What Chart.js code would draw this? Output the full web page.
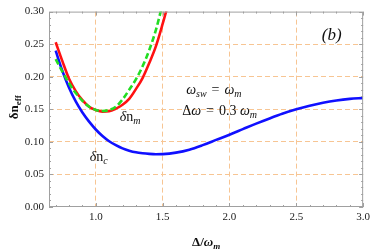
<!DOCTYPE html>
<html><head><meta charset="utf-8">
<script src="https://cdn.jsdelivr.net/npm/chart.js@4"></script>
<style>html,body{margin:0;padding:0;background:#fff;overflow:hidden}</style>
</head><body><canvas id="c" width="374" height="251" style="display:block;width:374px;height:251px"></canvas>
<script>
// ---- data ----
const blueX = [0.70,0.75,0.80,0.85,0.90,0.95,1.00,1.05,1.10,1.15,1.20,1.25,1.30,1.35,1.40,1.45,1.50,1.60,1.70,1.80,1.90,2.00,2.10,2.20,2.30,2.40,2.50,2.60,2.70,2.80,2.90,3.00];
const blueY = [0.240,0.209,0.183,0.162,0.145,0.131,0.119,0.109,0.101,0.095,0.090,0.0865,0.084,0.0825,0.0815,0.081,0.0812,0.0835,0.088,0.095,0.103,0.111,0.1195,0.128,0.136,0.1435,0.150,0.1555,0.160,0.1635,0.166,0.1675];
const redX = [0.70,0.75,0.80,0.85,0.90,0.95,1.00,1.05,1.10,1.15,1.20,1.25,1.30,1.35,1.40,1.45,1.50,1.55];
const redY = [0.253,0.224,0.197,0.178,0.164,0.154,0.149,0.1465,0.147,0.151,0.157,0.166,0.181,0.198,0.221,0.247,0.281,0.318];
const greenX = [0.70,0.75,0.80,0.85,0.90,0.95,1.00,1.05,1.10,1.15,1.20,1.25,1.30,1.35,1.40,1.45,1.50];
const greenY = [0.227,0.208,0.190,0.175,0.163,0.154,0.149,0.1475,0.149,0.154,0.165,0.180,0.196,0.216,0.241,0.272,0.312];
const xTicks = [1.0,1.5,2.0,2.5,3.0];
const yTicks = [0.00,0.05,0.10,0.15,0.20,0.25,0.30];

const pts = (xs, ys) => xs.map((x, i) => ({x, y: ys[i]}));
const SERIF = '"Liberation Serif", "DejaVu Serif", serif';
const GRID = '#f7c593';

function drawRich(ctx, x, y, segs, align) {
  let w = 0;
  segs.forEach(s => { ctx.font = s.font; s.w = ctx.measureText(s.t).width + (s.sp || 0); w += s.w; });
  let cx = align === 'center' ? x - w / 2 : x;
  ctx.textBaseline = 'alphabetic';
  ctx.textAlign = 'left';
  segs.forEach(s => { ctx.font = s.font; ctx.fillText(s.t, cx, y + (s.dy || 0)); cx += s.w; });
}

const decor = {
  id: 'decor',
  afterDraw(chart) {
    const {ctx, chartArea: a, scales: {x, y}} = chart;
    ctx.save();
    // frame
    ctx.strokeStyle = '#a0a0a0';
    ctx.lineWidth = 1;
    ctx.strokeRect(a.left + 0.5, a.top + 0.5, a.right - a.left - 1, a.bottom - a.top - 1);
    // minor / major ticks inside frame
    ctx.beginPath();
    for (let k = 7; k <= 30; k++) {
      const v = k / 10, px = Math.round(x.getPixelForValue(v)) + 0.5;
      const len = (k % 5 === 0) ? 4 : 2;
      ctx.moveTo(px, a.bottom); ctx.lineTo(px, a.bottom - len);
      ctx.moveTo(px, a.top); ctx.lineTo(px, a.top + len);
    }
    for (let k = 0; k <= 30; k++) {
      const v = k / 100, py = Math.round(y.getPixelForValue(v)) + 0.5;
      const len = (k % 5 === 0) ? 4 : 2;
      ctx.moveTo(a.left, py); ctx.lineTo(a.left + len, py);
      ctx.moveTo(a.right, py); ctx.lineTo(a.right - len, py);
    }
    ctx.stroke();

    ctx.fillStyle = '#111';
    // panel label
    drawRich(ctx, x.getPixelForValue(2.765), y.getPixelForValue(0.263) + 4,
      [{t: '(b)', font: 'italic 17px ' + SERIF}], 'center');
    // parameters
    drawRich(ctx, x.getPixelForValue(1.676), y.getPixelForValue(0.181) + 5, [
      {t: 'ω', font: 'italic 14px ' + SERIF},
      {t: 'sw', font: 'italic 10px ' + SERIF, dy: 3, sp: 5},
      {t: '=', font: '14px ' + SERIF, sp: 5},
      {t: 'ω', font: 'italic 14px ' + SERIF},
      {t: 'm', font: 'italic 10px ' + SERIF, dy: 3}
    ]);
    drawRich(ctx, x.getPixelForValue(1.646), y.getPixelForValue(0.149) + 5, [
      {t: 'Δ', font: '14px ' + SERIF},
      {t: 'ω', font: 'italic 14px ' + SERIF, sp: 5},
      {t: '=', font: '14px ' + SERIF, sp: 5},
      {t: '0.3 ', font: '14px ' + SERIF},
      {t: 'ω', font: 'italic 14px ' + SERIF},
      {t: 'm', font: 'italic 10px ' + SERIF, dy: 3}
    ]);
    // curve labels
    drawRich(ctx, x.getPixelForValue(1.18), y.getPixelForValue(0.138) + 4, [
      {t: 'δ', font: 'italic 14px ' + SERIF},
      {t: 'n', font: '14px ' + SERIF},
      {t: 'm', font: 'italic 10px ' + SERIF, dy: 3}
    ]);
    drawRich(ctx, x.getPixelForValue(0.955), y.getPixelForValue(0.076) + 4, [
      {t: 'δ', font: 'italic 14px ' + SERIF},
      {t: 'n', font: '14px ' + SERIF},
      {t: 'c', font: 'italic 10px ' + SERIF, dy: 3}
    ]);
    // x axis title
    drawRich(ctx, (a.left + a.right) / 2, 246, [
      {t: 'Δ/', font: 'bold 13px ' + SERIF},
      {t: 'ω', font: 'bold italic 13px ' + SERIF},
      {t: 'm', font: 'bold italic 9px ' + SERIF, dy: 3}
    ], 'center');
    // y axis title (rotated)
    ctx.save();
    ctx.translate(18, (a.top + a.bottom) / 2 - 2);
    ctx.rotate(-Math.PI / 2);
    drawRich(ctx, 0, 0, [
      {t: 'δn', font: 'bold 13px ' + SERIF},
      {t: 'eff', font: 'bold 9px ' + SERIF, dy: 3}
    ], 'center');
    ctx.restore();
    ctx.restore();
  }
};

new Chart(document.getElementById('c'), {
  type: 'line',
  data: {
    datasets: [
      {data: pts(greenX, greenY), borderColor: '#22dd22', borderWidth: 2.6, borderDash: [6, 3], pointRadius: 0, cubicInterpolationMode: 'monotone', fill: false},
      {data: pts(redX, redY), borderColor: '#ff1111', borderWidth: 2.6, pointRadius: 0, cubicInterpolationMode: 'monotone', fill: false},
      {data: pts(blueX, blueY), borderColor: '#1010ff', borderWidth: 2.6, pointRadius: 0, cubicInterpolationMode: 'monotone', fill: false}
    ]
  },
  options: {
    responsive: false,
    animation: false,
    devicePixelRatio: 1,
    layout: {padding: {left: 0, right: 9, top: 8, bottom: 0}},
    plugins: {legend: {display: false}, tooltip: {enabled: false}},
    scales: {
      x: {
        type: 'linear', min: 0.65, max: 3.0,
        afterBuildTicks: s => { s.ticks = xTicks.map(v => ({value: v})); },
        afterFit: s => { s.height = 44; },
        ticks: {font: {family: SERIF, size: 11}, color: '#222', padding: 4, maxRotation: 0, autoSkip: false,
                callback: v => Number(v).toFixed(1)},
        grid: {color: c => (c.tick && c.tick.value > 0.7 && c.tick.value < 2.99) ? GRID : 'rgba(0,0,0,0)', lineWidth: 1, drawTicks: false},
        border: {display: false, dash: [5, 3]}
      },
      y: {
        min: 0, max: 0.30,
        afterBuildTicks: s => { s.ticks = yTicks.map(v => ({value: v})); },
        afterFit: s => { s.width = 49; },
        ticks: {font: {family: SERIF, size: 11}, color: '#222', padding: 5,
                callback: v => Number(v).toFixed(2)},
        grid: {color: c => (c.tick && c.tick.value > 0.001 && c.tick.value < 0.299) ? GRID : 'rgba(0,0,0,0)', lineWidth: 1, drawTicks: false},
        border: {display: false, dash: [5, 3]}
      }
    }
  },
  plugins: [decor]
});
</script>
</body></html>
